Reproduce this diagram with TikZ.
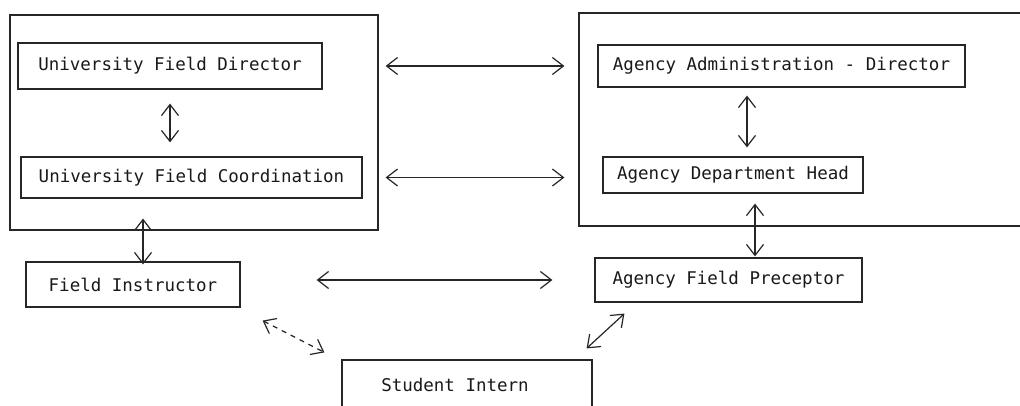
\documentclass[tikz,border=0pt]{standalone}
\usepackage{fontspec}
\newfontfamily\typew{DejaVu Sans Mono}
\usetikzlibrary{arrows.meta}
\begin{document}
\begin{tikzpicture}[x=1pt,y=-1pt,
  ink/.style={draw=black!85, line width=1.2pt},
  box/.style={ink, rectangle, inner sep=0pt, font=\typew\fontsize{17.5}{20}\selectfont, text=black!90},
  grp/.style={ink, rectangle, inner sep=0pt},
  arr/.style={ink, {Straight Barb[length=11pt,width=17pt]}-{Straight Barb[length=11pt,width=17pt]}},
  darr/.style={arr, dash pattern=on 5pt off 5pt}]
\fill[white] (0,0) rectangle (1020,406);
\useasboundingbox (0,0) rectangle (1020,406);
% group frames
\node[grp, minimum width=368pt, minimum height=215pt] (L) at (194,122.5) {};
\node[grp, minimum width=451pt, minimum height=213pt] (R) at (804.5,119.5) {};
% boxes
\node[box, minimum width=304pt, minimum height=46pt] (UFD) at (170,66) {University Field Director};
\node[box, minimum width=341pt, minimum height=41pt] (UFC) at (191.5,177.5) {University Field Coordination};
\node[box, minimum width=214pt, minimum height=45pt] (FI) at (133,284.5) {Field Instructor};
\node[box, minimum width=367pt, minimum height=42pt] (AAD) at (781.5,66) {Agency Administration - Director};
\node[box, minimum width=260pt, minimum height=36pt] (ADH) at (733,175) {Agency Department Head};
\node[box, minimum width=267pt, minimum height=44pt] (AFP) at (728.5,280) {Agency Field Preceptor};
\node[box, minimum width=250pt, minimum height=55pt] (SI) at (467,387.5) {\raisebox{5pt}{Student Intern}\hspace*{24pt}};
% connectors
\draw[arr, shorten <=14pt, shorten >=14pt] (UFD.south) -- (UFD.south |- UFC.north);
\draw[arr, shorten <=7pt, shorten >=14pt] (L.east |- UFD.east) -- (R.west |- UFD.east);
\draw[arr, shorten <=7pt, shorten >=14pt] (L.east |- UFC.east) -- (R.west |- UFC.east);
\draw[arr, shorten <=8pt, shorten >=9pt] ([xshift=-34.5pt]AAD.south) -- ([xshift=-34.5pt]AAD.south |- ADH.north);
\draw[arr, shorten <=10pt, shorten >=1pt] ([xshift=22pt]ADH.south) -- ([xshift=22pt]ADH.south |- AFP.north);
\draw[arr, shorten <=20pt, shorten >=-3pt] ([xshift=10pt]FI.north |- UFC.south) -- ([xshift=10pt]FI.north);
\draw[arr, shorten <=76pt, shorten >=42pt] (FI.east |- AFP.west) -- (AFP.west);
\draw[arr] ([xshift=30pt,yshift=-11pt]AFP.south west) -- ([xshift=-6pt,yshift=11pt]SI.north east);
\draw[darr] ([xshift=22pt,yshift=-13pt]FI.south east) -- ([xshift=-17pt,yshift=7pt]SI.north west);
\end{tikzpicture}
\end{document}
